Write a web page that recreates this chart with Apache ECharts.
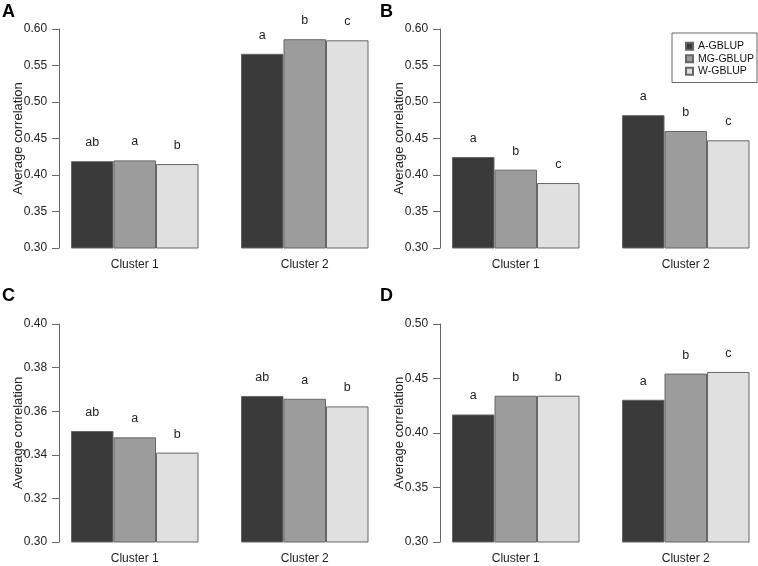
<!DOCTYPE html>
<html>
<head>
<meta charset="utf-8">
<script src="https://cdn.jsdelivr.net/npm/echarts@6/dist/echarts.min.js"></script>
<style>html,body{margin:0;padding:0;background:#fff;}#c{width:758px;height:566px;}</style>
</head>
<body>
<div id="c"></div>
<script>
const categories = ['Cluster 1', 'Cluster 2'];
const methods = ['A-GBLUP', 'MG-GBLUP', 'W-GBLUP'];
const panelLetters = ['A', 'B', 'C', 'D'];

// Panel A
const A_aGblup = [0.419, 0.566];
const A_mgGblup = [0.420, 0.586];
const A_wGblup = [0.415, 0.5845];
const A_sigA = ['ab', 'a'];
const A_sigMG = ['a', 'b'];
const A_sigW = ['b', 'c'];
// Panel B
const B_aGblup = [0.4247, 0.482];
const B_mgGblup = [0.4073, 0.4603];
const B_wGblup = [0.389, 0.4475];
const B_sigA = ['a', 'a'];
const B_sigMG = ['b', 'b'];
const B_sigW = ['c', 'c'];
// Panel C
const C_aGblup = [0.3509, 0.367];
const C_mgGblup = [0.348, 0.3657];
const C_wGblup = [0.341, 0.3622];
const C_sigA = ['ab', 'ab'];
const C_sigMG = ['a', 'a'];
const C_sigW = ['b', 'b'];
// Panel D
const D_aGblup = [0.417, 0.4305];
const D_mgGblup = [0.4342, 0.4545];
const D_wGblup = [0.4342, 0.456];
const D_sigA = ['a', 'a'];
const D_sigMG = ['b', 'b'];
const D_sigW = ['b', 'c'];

// y-axis ranges
const yMin = [0.30, 0.30, 0.30, 0.30];
const yMax = [0.60, 0.60, 0.40, 0.50];
const yStep = [0.05, 0.05, 0.02, 0.05];

const panels = [
  { vals: [A_aGblup, A_mgGblup, A_wGblup], sig: [A_sigA, A_sigMG, A_sigW] },
  { vals: [B_aGblup, B_mgGblup, B_wGblup], sig: [B_sigA, B_sigMG, B_sigW] },
  { vals: [C_aGblup, C_mgGblup, C_wGblup], sig: [C_sigA, C_sigMG, C_sigW] },
  { vals: [D_aGblup, D_mgGblup, D_wGblup], sig: [D_sigA, D_sigMG, D_sigW] }
];

const FONT = '"Liberation Sans", Arial, Helvetica, sans-serif';
const colors = ['#3a3a3a', '#9c9c9c', '#e0e0e0'];
const gridPos = [
  { left: 49.75, top: 29, width: 340, height: 219 },
  { left: 430.75, top: 29, width: 340, height: 219 },
  { left: 49.75, top: 324, width: 340, height: 218 },
  { left: 430.75, top: 324, width: 340, height: 218 }
];
const titlePos = [
  { left: 2, top: 3 }, { left: 380, top: 3 }, { left: 2, top: 287 }, { left: 380, top: 287 }
];

const option = {
  backgroundColor: '#ffffff',
  animation: false,
  textStyle: { fontFamily: FONT },
  title: panelLetters.map((t, i) => ({
    text: t, left: titlePos[i].left, top: titlePos[i].top, padding: 0,
    textStyle: { fontFamily: FONT, fontSize: 18, fontWeight: 'bold', color: '#000' }
  })),
  legend: {
    data: methods,
    orient: 'vertical',
    left: 672, top: 33,
    padding: [7, 3, 5, 13],
    itemWidth: 7, itemHeight: 7, itemGap: 0,
    icon: 'rect',
    borderColor: '#666', borderWidth: 1,
    textStyle: { fontFamily: FONT, fontSize: 10.5, lineHeight: 12.5, color: '#111' }
  },
  grid: gridPos.map(g => Object.assign({ containLabel: false, outerBoundsMode: 'none' }, g)),
  xAxis: gridPos.map((g, i) => ({
    type: 'category', gridIndex: i, data: categories,
    axisLine: { show: false }, axisTick: { show: false },
    axisLabel: { margin: 11, fontSize: 12, color: '#222', fontFamily: FONT }
  })),
  yAxis: gridPos.map((g, i) => ({
    type: 'value', gridIndex: i, min: yMin[i], max: yMax[i], interval: yStep[i],
    offset: -9.35,
    name: 'Average correlation', nameLocation: 'middle', nameRotate: 90, nameGap: 34,
    nameMoveOverlap: false,
    nameTextStyle: { fontSize: 13, color: '#222', fontFamily: FONT },
    axisLine: { show: true, lineStyle: { color: '#666', width: 1 } },
    axisTick: { show: true, length: 7, lineStyle: { color: '#666' } },
    splitLine: { show: false },
    axisLabel: { margin: 12, fontSize: 12, color: '#222', fontFamily: FONT,
      formatter: v => v.toFixed(2) }
  })),
  series: []
};

panels.forEach((p, gi) => {
  methods.forEach((m, si) => {
    const letters = p.sig[si];
    option.series.push({
      type: 'bar', name: m, xAxisIndex: gi, yAxisIndex: gi,
      data: p.vals[si],
      barWidth: 42.5, barGap: '0%',
      itemStyle: { color: colors[si], borderColor: '#666', borderWidth: 1 },
      label: {
        show: true, position: 'top', distance: 12,
        fontSize: 12.5, color: '#222', fontFamily: FONT,
        formatter: params => letters[params.dataIndex]
      }
    });
  });
});

const chart = echarts.init(document.getElementById('c'), null, { renderer: 'canvas' });
chart.setOption(option);
</script>
</body>
</html>
